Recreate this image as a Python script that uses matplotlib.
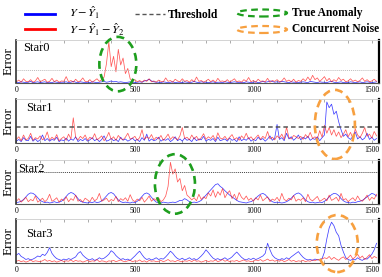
import matplotlib
matplotlib.use("Agg")
import matplotlib.pyplot as plt
from matplotlib.patches import Ellipse
from matplotlib.lines import Line2D
from matplotlib.transforms import blended_transform_factory
import numpy as np

plt.rcParams['font.family'] = ['Liberation Serif', 'DejaVu Serif']
plt.rcParams['mathtext.fontset'] = 'stix'

STEP = 10
panel_names = ['Star0', 'Star1', 'Star2', 'Star3']
x_ticks = [0, 500, 1000, 1500]
thresholds = [30, 37, 73, 36]

blue0 = [2,1,3,2,1,2,4,1,2,3, 1,2,3,1,2,1,3,2,1,2, 2,3,1,2,4,2,1,3,2,1,
         2,1,3,2,1,2,3,4,2,3, 5,3,4,2,3,2,1,2,3,2, 1,2,3,2,5,6,9,5,3,2,
         2,1,3,2,1,2,3,1,2,2, 1,3,2,1,2,4,2,1,3,2, 2,1,2,3,1,2,2,1,3,2,
         1,2,3,2,1,2,1,3,2,1, 2,3,1,2,4,2,3,5,4,2, 3,2,4,3,2,1,3,2,2,1,
         2,3,2,1,4,3,2,1,3,2, 2,1,3,4,2,1,2,3,1,2, 1,3,2,1,2,3,1,2,3,2,1,2,3]
red0 = [3,7,2,10,4,3,8,2,5,13, 3,6,9,2,4,11,3,7,2,5, 4,15,3,6,2,9,3,5,12,4,
        3,8,2,6,10,4,8,14,45,95, 38,62,26,78,42,58,22,34,10,4, 8,3,6,2,7,4,10,3,5,2,
        7,4,3,12,4,6,2,9,5,3, 10,4,6,2,8,3,14,4,6,2, 5,9,3,7,2,11,4,5,3,8,
        2,6,10,3,5,2,8,4,13,3, 6,2,9,4,5,3,11,2,6,4, 8,3,5,12,4,7,3,9,2,6,
        4,10,5,14,6,18,8,12,4,9, 15,5,11,3,8,4,13,6,9,3, 5,10,4,7,3,6,12,4,8,3,5,9,4]

blue1 = [4,8,3,12,6,5,15,4,9,3, 7,18,5,10,4,8,6,13,3,7, 5,11,4,9,6,14,3,8,5,10,
         4,7,12,5,9,3,8,16,4,6, 10,5,8,3,13,6,9,4,7,11, 5,8,3,12,6,20,4,9,5,7,
         13,4,8,6,10,3,7,14,5,9, 4,11,6,8,3,12,5,9,7,15, 4,8,6,10,3,13,5,7,9,4,
         11,6,8,3,14,5,9,6,12,4, 8,5,13,7,10,4,9,16,6,11, 42,8,12,5,22,9,14,6,11,18,
         7,13,9,15,6,10,8,14,5,12, 18,93,80,88,65,72,48,30,15,20, 12,8,15,25,9,14,7,11,22,8,13,6,10]
red1 = [8,14,5,18,7,10,22,6,12,9, 16,7,11,25,6,13,8,19,5,10, 14,6,20,9,57,12,7,15,10,18,
        6,13,9,21,7,11,16,5,12,24, 8,14,6,17,10,7,13,22,9,11, 15,6,12,30,8,14,10,19,7,13,
        9,17,6,12,20,8,14,11,7,16, 35,10,13,7,18,9,15,6,12,21, 8,14,10,17,6,23,11,9,15,7,
        13,19,8,12,6,16,10,22,9,14, 7,12,18,8,15,10,26,9,13,7, 16,11,20,8,36,12,9,17,14,10,
        15,8,19,12,24,10,14,9,28,13, 40,22,35,18,30,15,25,12,20,30, 14,24,10,32,18,12,22,35,15,20,11,26,16]

blue2 = [3,4,6,10,16,22,25,24,20,14, 8,5,3,4,2,3,5,3,4,6, 11,17,23,26,24,19,12,6,4,3,
         2,4,3,5,3,4,7,12,18,24, 26,23,16,9,5,3,4,3,2,4, 3,6,11,17,23,25,22,15,9,4,
         3,2,4,3,2,3,4,3,5,8, 8,12,9,5,3,4,3,5,8,14, 20,26,32,38,44,46,40,36,30,25,
         20,16,12,8,5,4,3,2,4,5, 8,13,18,22,24,21,15,9,5,3, 4,3,2,3,5,8,13,19,23,25,
         22,16,9,5,3,4,2,3,4,3, 6,10,16,21,24,23,19,12,7,4, 3,2,4,3,5,6,8,12,16,20,24,22,18]
red2 = [6,12,4,9,15,5,10,7,18,4, 8,13,5,10,22,6,9,14,4,11, 7,16,5,12,8,20,6,10,4,13,
        9,5,15,7,11,24,6,9,13,5, 10,7,17,5,12,8,14,6,21,9, 5,11,7,15,4,10,18,6,12,8,
        14,5,9,18,40,95,68,80,50,58, 30,42,20,15,9,14,7,22,10,16, 12,25,18,32,15,28,20,35,14,24,
        30,12,22,9,26,15,10,18,8,13, 6,14,9,20,7,12,16,5,11,8, 15,6,24,10,7,13,9,19,6,11,
        8,14,5,22,10,7,12,17,6,9, 13,7,20,8,11,15,6,24,9,12, 5,10,14,7,18,9,6,12,20,8,15,11,22]

blue3 = [18,22,15,12,8,10,7,9,12,16, 14,20,17,24,35,22,15,10,8,6, 9,7,10,8,11,14,22,26,18,13,
         9,7,10,6,8,12,9,11,15,20, 28,24,17,12,8,10,7,9,6,11, 16,22,27,19,12,8,10,7,9,12,
         8,10,9,14,20,27,22,15,10,8, 11,7,9,12,8,10,7,11,16,22, 30,24,17,11,8,10,7,9,12,8,
         10,14,20,25,19,13,9,7,10,8, 11,8,10,13,16,22,45,30,18,12, 9,7,10,8,12,9,14,18,22,26,
         19,13,9,7,8,6,9,7,8,10, 25,55,80,93,85,70,62,40,25,12, 8,6,9,7,12,8,6,10,9,14,20,30,45]
red3 = [4,6,3,5,2,4,7,3,5,4, 3,5,8,4,6,3,5,2,4,6, 3,5,4,7,3,6,4,5,2,4,
        6,3,5,4,8,3,5,4,2,5, 4,6,3,5,7,4,3,5,6,3, 5,4,7,3,5,2,6,4,5,3,
        4,6,3,5,8,4,5,3,6,4, 3,5,4,6,3,7,4,5,2,4, 6,3,5,4,7,3,5,8,4,6,
        3,5,4,6,3,5,7,4,5,3, 4,7,5,8,4,6,9,5,7,4, 6,4,7,3,5,8,4,6,3,5,
        4,6,3,5,4,7,5,8,6,9, 12,10,15,8,13,9,6,11,14,8, 12,18,9,14,20,11,16,8,13,19,10,15,12]

blues = [blue0, blue1, blue2, blue3]
reds = [red0, red1, red2, red3]

# annotation ellipses: (panel, kind, x-centre, x-width, y-centre(axes), height(axes))
anomaly_marks = [(0, 'anomaly', 428, 156, 0.44, 1.26),
                 (1, 'noise', 1344, 169, 0.42, 1.57),
                 (2, 'anomaly', 669, 169, 0.455, 1.36),
                 (3, 'noise', 1354, 173, 0.443, 1.30)]

BLUE = '#0000ff'
RED = '#ff0000'
GREEN = '#1e9e1e'
ORANGE = '#f7a040'
mark_colors = {'anomaly': GREEN, 'noise': ORANGE}

fig = plt.figure(figsize=(3.82, 2.77), dpi=100)
left, right = 0.043, 0.992
axes_bt = [(0.700, 0.856), (0.484, 0.643), (0.264, 0.422), (0.0505, 0.209)]
thr_styles = [dict(color='#bbbbbb', ls=(0, (1, 1)), lw=0.7),
              dict(color='#555555', ls=(0, (3, 2)), lw=1.1),
              dict(color='#444444', ls=(0, (1, 1)), lw=0.7),
              dict(color='#555555', ls=(0, (3, 2)), lw=0.7)]
star_pos = [(0.018, 0.81), (0.026, 0.80), (0.005, 0.80), (0.026, 0.66)]

for k in range(4):
    b, t = axes_bt[k]
    ax = fig.add_axes([left, b, right - left, t - b])
    xs = np.arange(len(blues[k])) * STEP
    ax.plot(xs, blues[k], color=BLUE, lw=0.55, alpha=0.75)
    ax.plot(np.arange(len(reds[k])) * STEP, reds[k], color=RED, lw=0.55, alpha=0.65)
    ax.axhline(thresholds[k], **thr_styles[k])
    ax.set_xlim(0, 1530)
    ax.set_ylim(0, 100)
    ax.set_yticks([])
    ax.set_xticks(x_ticks)
    ax.set_xticks(np.arange(0, 1600, 100), minor=True)
    ax.tick_params(axis='x', which='both', direction='in', top=True, length=2,
                   width=0.5, color='#888888', labelsize=5.5, pad=2)
    ax.spines['top'].set_color('#cccccc')
    ax.spines['top'].set_linewidth(0.6)
    ax.spines['bottom'].set_color('#555555')
    ax.spines['bottom'].set_linewidth(0.8)
    ax.spines['left'].set_color('#333333')
    ax.spines['left'].set_linewidth(1.2)
    ax.spines['right'].set_color('black')
    ax.spines['right'].set_linewidth(1.6)
    ax.set_ylabel('Error', fontsize=9.5, labelpad=1)
    ax.text(star_pos[k][0], star_pos[k][1], panel_names[k], transform=ax.transAxes,
            fontsize=9, va='center', ha='left')
    for (p, kind, xc, w, yc, h) in anomaly_marks:
        if p == k:
            tr = blended_transform_factory(ax.transData, ax.transAxes)
            e = Ellipse((xc, yc), w, h, transform=tr, fill=False,
                        edgecolor=mark_colors[kind], lw=1.9, ls=(0, (3, 2)),
                        clip_on=False, zorder=10)
            ax.add_patch(e)

# legend (drawn in figure pixel fractions)
W, H = 382.0, 277.0
def fx(px): return px / W
def fy(py): return 1 - py / H

fig.add_artist(Line2D([fx(25), fx(55)], [fy(14), fy(14)], color=BLUE, lw=2))
fig.add_artist(Line2D([fx(25), fx(55)], [fy(29), fy(29)], color=RED, lw=2))
fig.text(fx(69), fy(13), r'$Y-\hat{Y}_1$', fontsize=8.8, va='center', ha='left')
fig.text(fx(69), fy(30), r'$Y-\hat{Y}_1-\hat{Y}_2$', fontsize=8.8, va='center', ha='left')
fig.add_artist(Line2D([fx(135), fx(165)], [fy(14), fy(14)], color='#555555', lw=1.0,
                      ls=(0, (3, 2))))
fig.text(fx(168), fy(14.5), 'Threshold', fontsize=8.3, fontweight='bold', va='center', ha='left')
for py, col, lab in [(13, GREEN, 'True Anomaly'), (29.5, ORANGE, 'Concurrent Noise')]:
    fig.add_artist(Ellipse((fx(262), fy(py)), fx(50), 7 / H, transform=fig.transFigure,
                           fill=False, edgecolor=col, lw=1.6, ls=(0, (3, 2))))
    fig.text(fx(292), fy(py), lab, fontsize=8.3, fontweight='bold', va='center', ha='left')

fig.savefig('out.png', dpi=100)
